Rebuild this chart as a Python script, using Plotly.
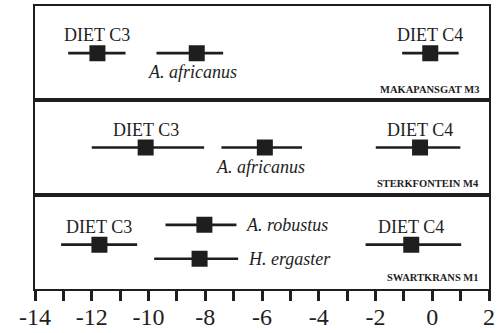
import plotly.graph_objects as go
from plotly.subplots import make_subplots

# Sites (top to bottom)
sites = ["MAKAPANSGAT M3", "STERKFONTEIN M4", "SWARTKRANS M1"]

# Per site: group names, mean δ13C, lower and upper bounds of the range
groups = [
    ["DIET C3", "A. africanus", "DIET C4"],
    ["DIET C3", "A. africanus", "DIET C4"],
    ["DIET C3", "A. robustus", "H. ergaster", "DIET C4"],
]
means = [
    [-11.8, -8.3, -0.07],
    [-10.1, -5.9, -0.43],
    [-11.73, -8.03, -8.2, -0.74],
]
lows = [
    [-12.83, -9.72, -1.06],
    [-12.0, -7.43, -1.99],
    [-13.08, -9.4, -9.8, -2.35],
]
highs = [
    [-10.81, -7.37, 0.93],
    [-8.04, -4.59, 0.99],
    [-10.4, -6.9, -6.84, 1.02],
]

# Vertical row of each group inside its panel (0 = bottom, 1 = top)
rows_y = [
    [0.5, 0.5, 0.5],
    [0.5, 0.5, 0.5],
    [0.47, 0.68, 0.32, 0.47],
]

tick_vals = [-14, -12, -10, -8, -6, -4, -2, 0, 2]
tick_text = ["-14", "-12", "-10", "-8", "-6", "-4", "-2", "0", "2"]

INK = "#1e1e1e"
SERIF = "Liberation Serif"

fig = make_subplots(rows=3, cols=1, shared_xaxes=True, vertical_spacing=0)

for i in range(3):
    r = i + 1
    fig.add_trace(
        go.Scatter(
            x=means[i],
            y=rows_y[i],
            mode="markers",
            marker=dict(symbol="square", size=16, color=INK, line=dict(width=0)),
            error_x=dict(
                type="data",
                symmetric=False,
                array=[h - m for h, m in zip(highs[i], means[i])],
                arrayminus=[m - l for m, l in zip(means[i], lows[i])],
                thickness=2.6,
                width=0,
                color=INK,
            ),
            showlegend=False,
            hoverinfo="skip",
        ),
        row=r,
        col=1,
    )

    yref = "y" if r == 1 else f"y{r}"
    xref = "x" if r == 1 else f"x{r}"
    for name, m, y in zip(groups[i], means[i], rows_y[i]):
        if name.startswith("DIET"):
            fig.add_annotation(
                x=m, y=y, xref=xref, yref=yref, text=name, showarrow=False,
                xanchor="center", yanchor="middle", yshift=18,
                font=dict(family=SERIF, size=18, color=INK),
            )
        elif i < 2:
            fig.add_annotation(
                x=m, y=y, xref=xref, yref=yref, text=f"<i>{name}</i>",
                showarrow=False, xanchor="center", yanchor="middle",
                xshift=-4, yshift=-19,
                font=dict(family=SERIF, size=18, color=INK),
            )
        else:
            hi = highs[i][groups[i].index(name)]
            fig.add_annotation(
                x=hi, y=y, xref=xref, yref=yref, text=f"<i>{name}</i>",
                showarrow=False, xanchor="left", yanchor="middle", xshift=8,
                font=dict(family=SERIF, size=18, color=INK),
            )

    fig.add_annotation(
        x=1, y=0.12, xref="paper", yref=f"{yref} domain", text=f"<b>{sites[i]}</b>",
        showarrow=False, xanchor="right", yanchor="middle", xshift=-8,
        font=dict(family=SERIF, size=10.5, color=INK),
    )

    fig.update_yaxes(
        range=[0, 1], showticklabels=False, ticks="", showgrid=False, zeroline=False,
        showline=True, mirror=True, linewidth=1.6, linecolor=INK, fixedrange=True,
        automargin=False, row=r, col=1,
    )
    fig.update_xaxes(
        range=[-14, 2], showgrid=False, zeroline=False, showline=True, mirror=True,
        linewidth=1.6, linecolor=INK, showticklabels=False, ticks="",
        automargin=False, row=r, col=1,
    )

fig.update_xaxes(
    tickvals=tick_vals, ticktext=tick_text, showticklabels=True,
    ticks="outside", ticklen=10, tickwidth=2.5, tickcolor=INK,
    minor=dict(dtick=1, tick0=0, ticks="outside", ticklen=10, tickwidth=2.5, tickcolor=INK),
    tickfont=dict(family=SERIF, size=24, color=INK),
    ticklabelstandoff=-5,
    row=3, col=1,
)

fig.update_layout(
    width=503, height=333,
    margin=dict(l=35, r=14, t=6, b=44),
    paper_bgcolor="white", plot_bgcolor="white",
    font=dict(family=SERIF, color=INK),
)

fig.write_html("out.html")
